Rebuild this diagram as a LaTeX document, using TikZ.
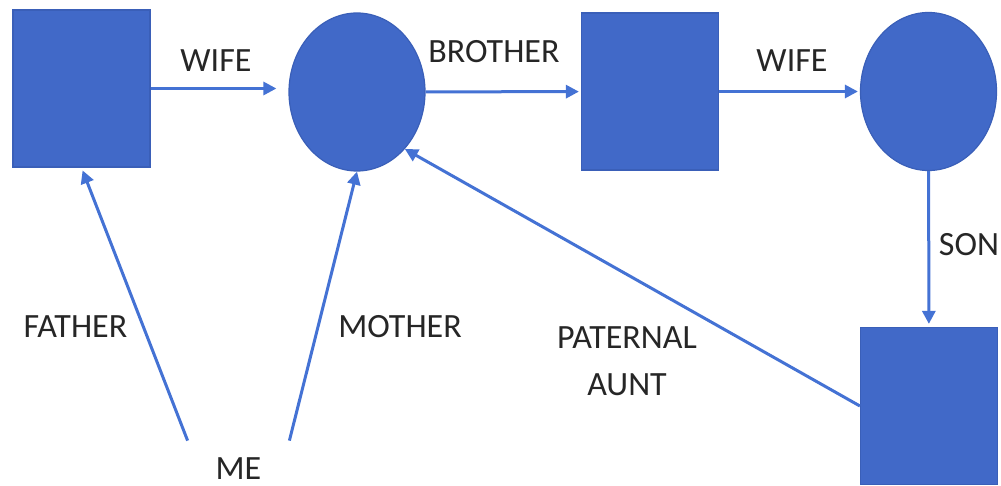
\documentclass[tikz,border=0pt]{standalone}
\usepackage{fontspec}
\setmainfont{Carlito}
\usetikzlibrary{shapes.geometric,arrows.meta}
\definecolor{boxblue}{HTML}{4169C8}
\definecolor{edgeblue}{HTML}{3A5FB8}
\definecolor{lineblue}{HTML}{4472D4}

\begin{document}
\begin{tikzpicture}[x=0.5pt,y=-0.5pt,
  male/.style={rectangle,fill=boxblue,draw=edgeblue,line width=0.6pt,
    inner sep=0pt,minimum width=68.5pt,minimum height=78.5pt},
  female/.style={ellipse,fill=boxblue,draw=edgeblue,line width=0.6pt,
    inner sep=0pt,minimum width=68pt,minimum height=79pt},
  rel/.style={draw=lineblue,line width=1.5pt,-{Triangle[length=6.5pt,width=6.5pt]}},
  tag/.style={font=\fontsize{17}{23.5}\selectfont,text=black!85,
    inner sep=0pt,align=center}]
  \useasboundingbox (0,0) rectangle (1001,486);
  \node[male] (dad) at (81.5,88.5) {};
  \node[female] (mom) at (357,92) {};
  \node[male] (uncle) at (650,91.5) {};
  \node[female] (aunt) at (928.5,91.5) {};
  \node[male] (cousin) at (929,406) {};
  \node[tag,minimum width=50.5pt,minimum height=28pt] (me) at (238.5,469) {ME};
  \draw[rel,shorten >=6pt] (dad.east) -- (dad.east -| mom.west);
  \draw[rel,shorten >=1pt] (mom) -- (uncle);
  \draw[rel,shorten >=1pt] (uncle) -- (aunt);
  \draw[rel,shorten >=1.5pt] (aunt) -- (cousin);
  \draw[rel] (cousin.west) -- (mom.-50);
  \draw[rel,shorten >=1.5pt] (me.north west) -- (dad.south);
  \draw[rel] (me.north east) -- (mom.south);
  \node[tag] (wifeA) at (216,60.5) {WIFE};
  \node[tag] (brother) at (494,52) {BROTHER};
  \node[tag] (wifeB) at (792,61) {WIFE};
  \node[tag] (son) at (969,245) {SON};
  \node[tag] (father) at (75.5,326.5) {FATHER};
  \node[tag] (mother) at (400,326.5) {MOTHER};
  \node[tag] (paternal) at (627,361) {PATERNAL\\AUNT};
\end{tikzpicture}
\end{document}
